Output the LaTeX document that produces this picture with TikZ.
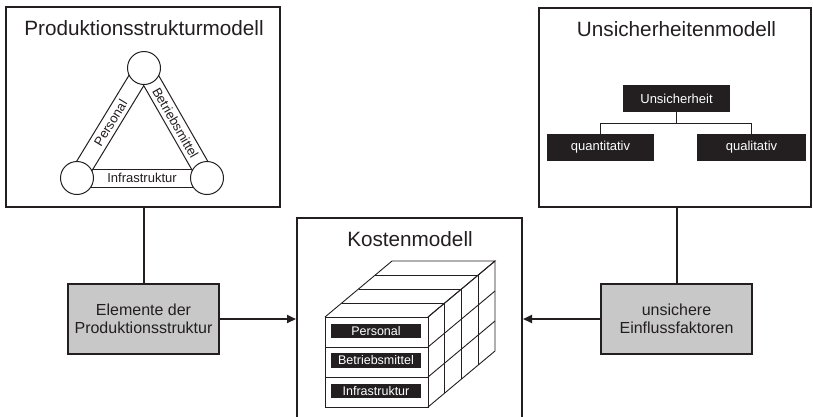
\documentclass[tikz,border=0pt]{standalone}
\usepackage{fontspec}
\setmainfont{Liberation Sans}
\usetikzlibrary{arrows.meta,calc}
\definecolor{ink}{RGB}{35,31,32}
\definecolor{panelgrey}{RGB}{200,200,200}

\begin{document}
\begin{tikzpicture}[x=1pt,y=-1pt,
  frame/.style={draw=ink, line width=2pt, fill=white, inner sep=0pt},
  title/.style={font=\fontsize{20.7}{24}\selectfont, text=ink, inner sep=0pt, anchor=base},
  greybox/.style={draw=ink, line width=2pt, fill=panelgrey, minimum width=151pt,
    minimum height=70pt, align=center, inner sep=0pt,
    font=\fontsize{16}{18.5}\selectfont, text=ink},
  link/.style={draw=ink, line width=2pt},
  flow/.style={draw=ink, line width=2pt, -{Triangle[length=9pt,width=8pt]}},
  blackbox/.style={fill=ink, text=white, font=\fontsize{13}{15}\selectfont,
    minimum height=27pt, inner sep=0pt},
  tree/.style={draw=ink, line width=1pt},
  joint/.style={circle, draw=ink, line width=1pt, fill=white, minimum size=33pt, inner sep=0pt},
  band/.style={draw=ink, line width=1pt, fill=white, minimum height=18pt, inner sep=0pt,
    font=\fontsize{13}{15}\selectfont, text=ink},
  cubeline/.style={draw=ink, line width=0.9pt},
  celllabel/.style={fill=ink, text=white, minimum width=90pt, minimum height=14.5pt,
    inner sep=0pt, font=\fontsize{12.5}{14}\selectfont}
]
\useasboundingbox (0,0) rectangle (813,416);

% ---------- production structure model ----------
\node[frame, minimum width=274pt, minimum height=200pt] (prod) at (143,107) {};
\node[title] (prodtitle) at (144,35) {Produktionsstrukturmodell};

\coordinate (ctop) at (144,68);
\coordinate (cleft) at (77,178);
\coordinate (cright) at (207,178);

\node[band, minimum width=130pt] (infra) at ($(cleft)!0.5!(cright)$) {Infrastruktur};
\node[band, minimum width=129pt, rotate=58.66] (pers) at ($(cleft)!0.5!(ctop)$) {Personal};
\node[band, minimum width=127pt, rotate=-60.2] (betr) at ($(ctop)!0.5!(cright)$) {Betriebsmittel};

\node[joint] (jtop) at (ctop) {};
\node[joint] (jleft) at (cleft) {};
\node[joint] (jright) at (cright) {};

% ---------- uncertainty model ----------
\node[frame, minimum width=272pt, minimum height=199pt] (unsure) at (675,107.5) {};
\node[title] (unsuretitle) at (676.5,36) {Unsicherheitenmodell};

\node[blackbox, minimum width=107pt] (unc) at (676.5,98.5) {Unsicherheit};
\node[blackbox, minimum width=107pt] (quan) at (600.5,147.5) {quantitativ};
\node[blackbox, minimum width=109pt] (qual) at (751.5,147.5) {qualitativ};
\draw[tree] (unc.south) -- ++(0,11) -| (quan.north);
\draw[tree] (unc.south) -- ++(0,11) -| (qual.north);

% ---------- cost model ----------
\node[frame, minimum width=225pt, minimum height=212pt] (cost) at (409.5,324) {};
\node[title] (costtitle) at (410,246.5) {Kostenmodell};

% cube: front face, top face, side face with four depth slices
\draw[cubeline] (325,317) rectangle (428,407);
\draw[cubeline] (325,347) -- (428,347) (325,377) -- (428,377);
\draw[cubeline] (325,317) -- (392,261) -- (495,261) -- (428,317);
\draw[cubeline] (428,317) -- (495,261) -- (495,351) -- (428,407);
\foreach \k in {1,2,3} {
  \draw[cubeline] ({325+16.75*\k},{317-14*\k}) -- ({428+16.75*\k},{317-14*\k});
  \draw[cubeline] ({428+16.75*\k},{317-14*\k}) -- ({428+16.75*\k},{407-14*\k});
}
\draw[cubeline] (428,347) -- (495,291) (428,377) -- (495,321);

\node[celllabel] (cpers) at (376,331) {Personal};
\node[celllabel] (cbetr) at (376,360.5) {Betriebsmittel};
\node[celllabel] (cinfra) at (376,391) {Infrastruktur};

% ---------- inputs ----------
\node[greybox] (elem) at (143.5,319) {Elemente der\\Produktionsstruktur};
\node[greybox] (factors) at (676.5,319) {unsichere\\Einflussfaktoren};

\draw[link] (elem.north) -- (elem.north |- prod.south);
\draw[link] (factors.north) -- (factors.north |- unsure.south);
\draw[flow] (elem.east) -- (cost.west |- elem.east);
\draw[flow] (factors.west) -- (cost.east |- factors.west);
\end{tikzpicture}
\end{document}
